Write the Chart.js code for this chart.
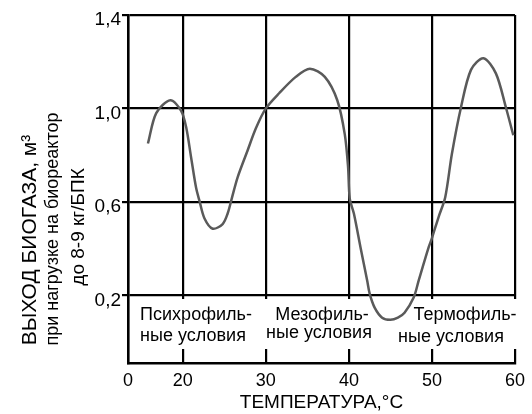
<!DOCTYPE html>
<html>
<head>
<meta charset="utf-8">
<script src="https://cdn.jsdelivr.net/npm/chart.js@4"></script>
<style>
  html, body { margin: 0; padding: 0; background: #fff; }
  #wrap { width: 532px; height: 414px; }
</style>
</head>
<body>
<div id="wrap"><canvas id="chartBiogas" width="532" height="414"></canvas></div>
<script>
// values
const temperature = [15.8, 16.8, 18.5, 19.8, 20.4, 21.0, 21.6, 22.0, 22.6, 23.6, 24.8, 25.4, 25.9, 26.6, 27.8, 28.8, 30.0,
  31.6, 33.6, 35.3, 37.1, 38.6, 39.5, 39.9, 40.1, 40.6, 41.4, 42.2, 42.5, 43.1, 44.0, 45.0, 45.9, 46.7, 47.8,
  48.4, 49.6, 50.0, 50.8, 51.6, 52.4, 53.5, 54.7, 56.2, 57.7, 58.9, 59.8];
const biogasYield = [0.85, 0.98, 1.035, 0.99, 0.92, 0.79, 0.66, 0.605, 0.53, 0.485, 0.505, 0.55, 0.615, 0.705, 0.82, 0.915, 1.0,
  1.065, 1.135, 1.17, 1.135, 1.035, 0.89, 0.75, 0.615, 0.55, 0.405, 0.263, 0.207, 0.147, 0.104, 0.095, 0.104, 0.125, 0.19,
  0.263, 0.405, 0.445, 0.535, 0.62, 0.805, 1.005, 1.165, 1.215, 1.15, 1.005, 0.885];
const xTicks = [20, 30, 40, 50, 60];
const yTicks = [0.2, 0.6, 1.0, 1.4];
const xOriginLabel = "0";
const xTitle = "ТЕМПЕРАТУРА,°С";
const yTitleLines = ["ВЫХОД БИОГАЗА, м³", "при нагрузке на биореактор", "до 8-9 кг/БПК"];
const zoneLabels = [["Психрофиль-", "ные условия"], ["Мезофиль-", "ные условия"], ["Термофиль-", "ные условия"]];

// axis is broken at the left: left edge is labelled "0"
const X_MIN = 13.4, X_MAX = 60, Y_MIN = -0.09, Y_MAX = 1.4;
const FONT = "'Liberation Sans', Arial, sans-serif";

// pixel layout of the hand-set captions
const zoneLayout = [
  { box: [134, 299, 125, 50], lines: [[196, 315], [193, 336]] },
  { box: [259, 299, 122, 50], lines: [[322, 315], [319, 333]] },
  { box: [388, 299, 133, 50], lines: [[465, 315], [451, 337]] },
];
const yTitleLayout = [[30, 240, 21], [53, 229, 18], [79, 227, 19]];

const captions = {
  id: "captions",
  beforeDatasetsDraw(chart) {
    const ctx = chart.ctx;
    ctx.save();
    ctx.font = "18px " + FONT;
    ctx.textAlign = "center";
    ctx.textBaseline = "middle";
    zoneLabels.forEach((lines, i) => {
      const z = zoneLayout[i];
      ctx.fillStyle = "#fff";
      ctx.fillRect(z.box[0], z.box[1], z.box[2], z.box[3]);
      ctx.fillStyle = "#000";
      lines.forEach((t, j) => ctx.fillText(t, z.lines[j][0], z.lines[j][1]));
    });
    ctx.restore();
  },
  afterDraw(chart) {
    const ctx = chart.ctx;
    ctx.save();
    ctx.fillStyle = "#000";
    ctx.textAlign = "center";
    ctx.textBaseline = "middle";
    yTitleLines.forEach((t, i) => {
      const [x, y, size] = yTitleLayout[i];
      ctx.save();
      ctx.translate(x, y);
      ctx.rotate(-Math.PI / 2);
      ctx.font = size + "px " + FONT;
      ctx.fillText(t, 0, 0);
      ctx.restore();
    });
    ctx.restore();
  }
};

new Chart(document.getElementById("chartBiogas"), {
  type: "line",
  data: {
    datasets: [{
      data: temperature.map((t, i) => ({ x: t, y: biogasYield[i] })),
      borderColor: "#5a5a5a",
      borderWidth: 2.5,
      pointRadius: 0,
      tension: 0.3,
      fill: false,
    }],
  },
  options: {
    responsive: false,
    animation: false,
    layout: { padding: { top: 15, right: 9, left: 0, bottom: 0 } },
    plugins: { legend: { display: false }, tooltip: { enabled: false } },
    scales: {
      x: {
        type: "linear",
        min: X_MIN,
        max: X_MAX,
        afterBuildTicks: s => { s.ticks = [X_MIN, ...xTicks].map(v => ({ value: v })); },
        afterFit: s => { s.height = 51; },
        grid: { color: "#000", lineWidth: 2.2, drawTicks: false },
        border: { color: "#000", width: 2.5 },
        ticks: {
          color: "#000",
          font: { family: FONT, size: 18 },
          padding: 7,
          maxRotation: 0,
          autoSkip: false,
          callback: v => (v === X_MIN ? xOriginLabel : String(v)),
        },
        title: {
          display: true,
          text: xTitle,
          color: "#000",
          font: { family: FONT, size: 19 },
          padding: { top: 0, bottom: 0 },
        },
      },
      y: {
        min: Y_MIN,
        max: Y_MAX,
        afterBuildTicks: s => { s.ticks = yTicks.map(v => ({ value: v })); },
        afterFit: s => { s.width = 128; },
        grid: { color: "#000", lineWidth: 2.2, tickLength: 6 },
        border: { color: "#000", width: 2.5 },
        ticks: {
          color: "#000",
          font: { family: FONT, size: 19 },
          padding: 1,
          labelOffset: 5,
          callback: v => v.toFixed(1).replace(".", ","),
        },
      },
    },
  },
  plugins: [captions],
});
</script>
</body>
</html>
